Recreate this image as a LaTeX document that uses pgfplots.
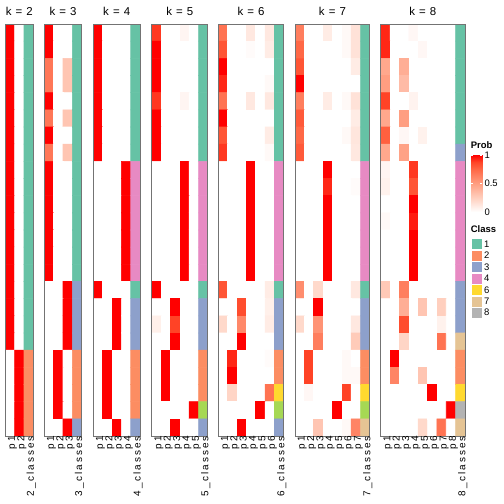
\documentclass[border=0pt]{standalone}
\usepackage{pgfplots}
\pgfplotsset{compat=1.18}
\usepackage{fontspec}
\setmainfont{Liberation Sans}
\newfontfamily\tickfont[LetterSpace=20]{Liberation Sans}
\newfontfamily\titlefont[LetterSpace=8]{Liberation Sans}
\definecolor{s1}{RGB}{102,194,165}
\definecolor{s2}{RGB}{252,141,98}
\definecolor{s3}{RGB}{141,160,203}
\definecolor{s4}{RGB}{231,138,195}
\definecolor{s5}{RGB}{166,216,84}
\definecolor{s6}{RGB}{255,217,47}
\definecolor{s7}{RGB}{229,196,148}
\definecolor{s8}{RGB}{179,179,179}
\pgfplotsset{
  colormap={wr}{rgb255(0)=(255,255,255) rgb255(0.25)=(255,207,190) rgb255(0.5)=(255,158,129) rgb255(0.75)=(255,104,70) rgb255(0.875)=(255,70,40) rgb255(1)=(255,0,0)},
  panel/.style={
    scale only axis, height=412bp, anchor=south west,
    xmin=-0.5, ymin=-0.5, ymax=23.5, y dir=reverse,
    colormap name=wr, point meta min=0, point meta max=1,
    axis on top,
    axis line style={draw=black!55, line width=1bp},
    ytick=\empty, major tick length=0pt,
    xticklabel style={rotate=90, anchor=east, inner sep=0pt, yshift=-2.5bp, font=\tickfont\fontsize{10}{12}\selectfont},
    every axis title/.style={at={(0.5,1)}, anchor=base, yshift=9bp, inner sep=0pt, font=\titlefont\fontsize{11.5}{13}\selectfont},
  },
  prob/.style={matrix plot, faceted color=mapped color, line width=0.6bp, mesh/cols=#1, mesh/rows=24, point meta=explicit},
  cls/.style={matrix plot, faceted color=mapped color, line width=0.6bp, mesh/cols=2, mesh/rows=24, mesh/color input=explicit, point meta=explicit symbolic},
}
\begin{document}
\begin{tikzpicture}
\path[use as bounding box] (0,0) rectangle (504bp,504bp);

% ---------------- k = 2
\begin{axis}[panel, at={(5.3bp,68bp)}, width=28.11bp, xmax=2.5, xtick={0,1,2}, xticklabels={p1,p2,2\_classes}, title={k = 2}]
\addplot[prob=2] table[row sep=\\, meta=v] {
x y v\\
0 0 1\\1 0 0\\
0 1 1\\1 1 0\\
0 2 1\\1 2 0\\
0 3 1\\1 3 0\\
0 4 1\\1 4 0\\
0 5 1\\1 5 0\\
0 6 1\\1 6 0\\
0 7 1\\1 7 0\\
0 8 1\\1 8 0\\
0 9 1\\1 9 0\\
0 10 1\\1 10 0\\
0 11 1\\1 11 0\\
0 12 1\\1 12 0\\
0 13 1\\1 13 0\\
0 14 1\\1 14 0\\
0 15 1\\1 15 0\\
0 16 1\\1 16 0\\
0 17 1\\1 17 0\\
0 18 1\\1 18 0\\
0 19 0\\1 19 1\\
0 20 0\\1 20 1\\
0 21 0\\1 21 1\\
0 22 0\\1 22 1\\
0 23 0\\1 23 1\\
};
\addplot[cls] table[row sep=\\, meta=c] {
x y c\\
2 0 color=s1\\3 0 color=s1\\
2 1 color=s1\\3 1 color=s1\\
2 2 color=s1\\3 2 color=s1\\
2 3 color=s1\\3 3 color=s1\\
2 4 color=s1\\3 4 color=s1\\
2 5 color=s1\\3 5 color=s1\\
2 6 color=s1\\3 6 color=s1\\
2 7 color=s1\\3 7 color=s1\\
2 8 color=s1\\3 8 color=s1\\
2 9 color=s1\\3 9 color=s1\\
2 10 color=s1\\3 10 color=s1\\
2 11 color=s1\\3 11 color=s1\\
2 12 color=s1\\3 12 color=s1\\
2 13 color=s1\\3 13 color=s1\\
2 14 color=s1\\3 14 color=s1\\
2 15 color=s1\\3 15 color=s1\\
2 16 color=s1\\3 16 color=s1\\
2 17 color=s1\\3 17 color=s1\\
2 18 color=s1\\3 18 color=s1\\
2 19 color=s2\\3 19 color=s2\\
2 20 color=s2\\3 20 color=s2\\
2 21 color=s2\\3 21 color=s2\\
2 22 color=s2\\3 22 color=s2\\
2 23 color=s2\\3 23 color=s2\\
};
\end{axis}

% ---------------- k = 3
\begin{axis}[panel, at={(44.3bp,68bp)}, width=37.48bp, xmax=3.5, xtick={0,1,2,3}, xticklabels={p1,p2,p3,3\_classes}, title={k = 3}]
\addplot[prob=3] table[row sep=\\, meta=v] {
x y v\\
0 0 1\\1 0 0\\2 0 0\\
0 1 1\\1 1 0\\2 1 0\\
0 2 0.68\\1 2 0\\2 2 0.3\\
0 3 0.68\\1 3 0\\2 3 0.3\\
0 4 1\\1 4 0\\2 4 0\\
0 5 0.68\\1 5 0\\2 5 0.3\\
0 6 1\\1 6 0\\2 6 0\\
0 7 0.68\\1 7 0\\2 7 0.3\\
0 8 1\\1 8 0\\2 8 0\\
0 9 1\\1 9 0\\2 9 0\\
0 10 1\\1 10 0\\2 10 0\\
0 11 1\\1 11 0\\2 11 0\\
0 12 1\\1 12 0\\2 12 0\\
0 13 1\\1 13 0\\2 13 0\\
0 14 1\\1 14 0\\2 14 0\\
0 15 0\\1 15 0\\2 15 1\\
0 16 0\\1 16 0\\2 16 1\\
0 17 0\\1 17 0\\2 17 1\\
0 18 0\\1 18 0\\2 18 1\\
0 19 0\\1 19 1\\2 19 0\\
0 20 0\\1 20 1\\2 20 0\\
0 21 0\\1 21 1\\2 21 0\\
0 22 0\\1 22 1\\2 22 0\\
0 23 0\\1 23 0\\2 23 1\\
};
\addplot[cls] table[row sep=\\, meta=c] {
x y c\\
3 0 color=s1\\4 0 color=s1\\
3 1 color=s1\\4 1 color=s1\\
3 2 color=s1\\4 2 color=s1\\
3 3 color=s1\\4 3 color=s1\\
3 4 color=s1\\4 4 color=s1\\
3 5 color=s1\\4 5 color=s1\\
3 6 color=s1\\4 6 color=s1\\
3 7 color=s1\\4 7 color=s1\\
3 8 color=s1\\4 8 color=s1\\
3 9 color=s1\\4 9 color=s1\\
3 10 color=s1\\4 10 color=s1\\
3 11 color=s1\\4 11 color=s1\\
3 12 color=s1\\4 12 color=s1\\
3 13 color=s1\\4 13 color=s1\\
3 14 color=s1\\4 14 color=s1\\
3 15 color=s3\\4 15 color=s3\\
3 16 color=s3\\4 16 color=s3\\
3 17 color=s3\\4 17 color=s3\\
3 18 color=s3\\4 18 color=s3\\
3 19 color=s2\\4 19 color=s2\\
3 20 color=s2\\4 20 color=s2\\
3 21 color=s2\\4 21 color=s2\\
3 22 color=s2\\4 22 color=s2\\
3 23 color=s3\\4 23 color=s3\\
};
\end{axis}

% ---------------- k = 4
\begin{axis}[panel, at={(93.3bp,68bp)}, width=46.85bp, xmax=4.5, xtick={0,1,2,3,4}, xticklabels={p1,p2,p3,p4,4\_classes}, title={k = 4}]
\addplot[prob=4] table[row sep=\\, meta=v] {
x y v\\
0 0 1\\1 0 0\\2 0 0\\3 0 0\\
0 1 1\\1 1 0\\2 1 0\\3 1 0\\
0 2 1\\1 2 0\\2 2 0\\3 2 0\\
0 3 1\\1 3 0\\2 3 0\\3 3 0\\
0 4 1\\1 4 0\\2 4 0\\3 4 0\\
0 5 1\\1 5 0\\2 5 0\\3 5 0\\
0 6 1\\1 6 0\\2 6 0\\3 6 0\\
0 7 1\\1 7 0\\2 7 0\\3 7 0\\
0 8 0\\1 8 0\\2 8 0\\3 8 1\\
0 9 0\\1 9 0\\2 9 0\\3 9 1\\
0 10 0\\1 10 0\\2 10 0\\3 10 1\\
0 11 0\\1 11 0\\2 11 0\\3 11 1\\
0 12 0\\1 12 0\\2 12 0\\3 12 1\\
0 13 0\\1 13 0\\2 13 0\\3 13 1\\
0 14 0\\1 14 0\\2 14 0\\3 14 1\\
0 15 1\\1 15 0\\2 15 0\\3 15 0\\
0 16 0\\1 16 0\\2 16 1\\3 16 0\\
0 17 0\\1 17 0\\2 17 1\\3 17 0\\
0 18 0\\1 18 0\\2 18 1\\3 18 0\\
0 19 0\\1 19 1\\2 19 0\\3 19 0\\
0 20 0\\1 20 1\\2 20 0\\3 20 0\\
0 21 0\\1 21 1\\2 21 0\\3 21 0\\
0 22 0\\1 22 1\\2 22 0\\3 22 0\\
0 23 0\\1 23 0\\2 23 1\\3 23 0\\
};
\addplot[cls] table[row sep=\\, meta=c] {
x y c\\
4 0 color=s1\\5 0 color=s1\\
4 1 color=s1\\5 1 color=s1\\
4 2 color=s1\\5 2 color=s1\\
4 3 color=s1\\5 3 color=s1\\
4 4 color=s1\\5 4 color=s1\\
4 5 color=s1\\5 5 color=s1\\
4 6 color=s1\\5 6 color=s1\\
4 7 color=s1\\5 7 color=s1\\
4 8 color=s4\\5 8 color=s4\\
4 9 color=s4\\5 9 color=s4\\
4 10 color=s4\\5 10 color=s4\\
4 11 color=s4\\5 11 color=s4\\
4 12 color=s4\\5 12 color=s4\\
4 13 color=s4\\5 13 color=s4\\
4 14 color=s4\\5 14 color=s4\\
4 15 color=s1\\5 15 color=s1\\
4 16 color=s3\\5 16 color=s3\\
4 17 color=s3\\5 17 color=s3\\
4 18 color=s3\\5 18 color=s3\\
4 19 color=s2\\5 19 color=s2\\
4 20 color=s2\\5 20 color=s2\\
4 21 color=s2\\5 21 color=s2\\
4 22 color=s2\\5 22 color=s2\\
4 23 color=s3\\5 23 color=s3\\
};
\end{axis}

% ---------------- k = 5
\begin{axis}[panel, at={(151.7bp,68bp)}, width=56.22bp, xmax=5.5, xtick={0,1,2,3,4,5}, xticklabels={p1,p2,p3,p4,p5,5\_classes}, title={k = 5}]
\addplot[prob=5] table[row sep=\\, meta=v] {
x y v\\
0 0 0.9\\1 0 0\\2 0 0\\3 0 0.05\\4 0 0\\
0 1 1\\1 1 0\\2 1 0\\3 1 0\\4 1 0\\
0 2 1\\1 2 0\\2 2 0\\3 2 0\\4 2 0\\
0 3 1\\1 3 0\\2 3 0\\3 3 0\\4 3 0\\
0 4 0.9\\1 4 0\\2 4 0\\3 4 0.05\\4 4 0\\
0 5 1\\1 5 0\\2 5 0\\3 5 0\\4 5 0\\
0 6 1\\1 6 0\\2 6 0\\3 6 0\\4 6 0\\
0 7 1\\1 7 0\\2 7 0\\3 7 0\\4 7 0\\
0 8 0\\1 8 0\\2 8 0\\3 8 1\\4 8 0\\
0 9 0\\1 9 0\\2 9 0\\3 9 1\\4 9 0\\
0 10 0\\1 10 0\\2 10 0\\3 10 1\\4 10 0\\
0 11 0\\1 11 0\\2 11 0\\3 11 1\\4 11 0\\
0 12 0\\1 12 0\\2 12 0\\3 12 1\\4 12 0\\
0 13 0\\1 13 0\\2 13 0\\3 13 1\\4 13 0\\
0 14 0\\1 14 0\\2 14 0\\3 14 1\\4 14 0\\
0 15 1\\1 15 0\\2 15 0\\3 15 0\\4 15 0\\
0 16 0\\1 16 0\\2 16 1\\3 16 0\\4 16 0\\
0 17 0.08\\1 17 0\\2 17 0.88\\3 17 0\\4 17 0\\
0 18 0\\1 18 0\\2 18 1\\3 18 0\\4 18 0\\
0 19 0\\1 19 1\\2 19 0\\3 19 0\\4 19 0\\
0 20 0\\1 20 1\\2 20 0\\3 20 0\\4 20 0\\
0 21 0\\1 21 1\\2 21 0\\3 21 0\\4 21 0\\
0 22 0\\1 22 0\\2 22 0\\3 22 0\\4 22 1\\
0 23 0\\1 23 0\\2 23 1\\3 23 0\\4 23 0\\
};
\addplot[cls] table[row sep=\\, meta=c] {
x y c\\
5 0 color=s1\\6 0 color=s1\\
5 1 color=s1\\6 1 color=s1\\
5 2 color=s1\\6 2 color=s1\\
5 3 color=s1\\6 3 color=s1\\
5 4 color=s1\\6 4 color=s1\\
5 5 color=s1\\6 5 color=s1\\
5 6 color=s1\\6 6 color=s1\\
5 7 color=s1\\6 7 color=s1\\
5 8 color=s4\\6 8 color=s4\\
5 9 color=s4\\6 9 color=s4\\
5 10 color=s4\\6 10 color=s4\\
5 11 color=s4\\6 11 color=s4\\
5 12 color=s4\\6 12 color=s4\\
5 13 color=s4\\6 13 color=s4\\
5 14 color=s4\\6 14 color=s4\\
5 15 color=s1\\6 15 color=s1\\
5 16 color=s3\\6 16 color=s3\\
5 17 color=s3\\6 17 color=s3\\
5 18 color=s3\\6 18 color=s3\\
5 19 color=s2\\6 19 color=s2\\
5 20 color=s2\\6 20 color=s2\\
5 21 color=s2\\6 21 color=s2\\
5 22 color=s5\\6 22 color=s5\\
5 23 color=s3\\6 23 color=s3\\
};
\end{axis}

% ---------------- k = 6
\begin{axis}[panel, at={(218.3bp,68bp)}, width=65.59bp, xmax=6.5, xtick={0,1,2,3,4,5,6}, xticklabels={p1,p2,p3,p4,p5,p6,6\_classes}, title={k = 6}]
\addplot[prob=6] table[row sep=\\, meta=v] {
x y v\\
0 0 0.7\\1 0 0\\2 0 0\\3 0 0.12\\4 0 0\\5 0 0.12\\
0 1 0.82\\1 1 0\\2 1 0\\3 1 0.02\\4 1 0\\5 1 0.1\\
0 2 1\\1 2 0\\2 2 0\\3 2 0\\4 2 0\\5 2 0\\
0 3 0.93\\1 3 0\\2 3 0\\3 3 0\\4 3 0\\5 3 0.03\\
0 4 0.7\\1 4 0\\2 4 0\\3 4 0.12\\4 4 0\\5 4 0.12\\
0 5 1\\1 5 0\\2 5 0\\3 5 0\\4 5 0\\5 5 0\\
0 6 0.82\\1 6 0\\2 6 0\\3 6 0\\4 6 0\\5 6 0.1\\
0 7 0.9\\1 7 0\\2 7 0\\3 7 0\\4 7 0\\5 7 0.03\\
0 8 0\\1 8 0\\2 8 0\\3 8 1\\4 8 0\\5 8 0\\
0 9 0\\1 9 0\\2 9 0\\3 9 1\\4 9 0\\5 9 0\\
0 10 0\\1 10 0\\2 10 0\\3 10 1\\4 10 0\\5 10 0\\
0 11 0\\1 11 0\\2 11 0\\3 11 1\\4 11 0\\5 11 0\\
0 12 0\\1 12 0\\2 12 0\\3 12 1\\4 12 0\\5 12 0\\
0 13 0\\1 13 0\\2 13 0\\3 13 1\\4 13 0\\5 13 0\\
0 14 0\\1 14 0\\2 14 0\\3 14 1\\4 14 0\\5 14 0\\
0 15 0.82\\1 15 0\\2 15 0\\3 15 0\\4 15 0\\5 15 0.1\\
0 16 0\\1 16 0\\2 16 0.85\\3 16 0\\4 16 0\\5 16 0.08\\
0 17 0.2\\1 17 0\\2 17 0.6\\3 17 0\\4 17 0\\5 17 0.1\\
0 18 0\\1 18 0\\2 18 1\\3 18 0\\4 18 0\\5 18 0\\
0 19 0\\1 19 0.93\\2 19 0\\3 19 0\\4 19 0\\5 19 0.02\\
0 20 0\\1 20 1\\2 20 0\\3 20 0\\4 20 0\\5 20 0\\
0 21 0\\1 21 0.22\\2 21 0\\3 21 0\\4 21 0\\5 21 0.7\\
0 22 0\\1 22 0\\2 22 0\\3 22 0\\4 22 1\\5 22 0\\
0 23 0\\1 23 0\\2 23 1\\3 23 0\\4 23 0\\5 23 0\\
};
\addplot[cls] table[row sep=\\, meta=c] {
x y c\\
6 0 color=s1\\7 0 color=s1\\
6 1 color=s1\\7 1 color=s1\\
6 2 color=s1\\7 2 color=s1\\
6 3 color=s1\\7 3 color=s1\\
6 4 color=s1\\7 4 color=s1\\
6 5 color=s1\\7 5 color=s1\\
6 6 color=s1\\7 6 color=s1\\
6 7 color=s1\\7 7 color=s1\\
6 8 color=s4\\7 8 color=s4\\
6 9 color=s4\\7 9 color=s4\\
6 10 color=s4\\7 10 color=s4\\
6 11 color=s4\\7 11 color=s4\\
6 12 color=s4\\7 12 color=s4\\
6 13 color=s4\\7 13 color=s4\\
6 14 color=s4\\7 14 color=s4\\
6 15 color=s1\\7 15 color=s1\\
6 16 color=s3\\7 16 color=s3\\
6 17 color=s3\\7 17 color=s3\\
6 18 color=s3\\7 18 color=s3\\
6 19 color=s2\\7 19 color=s2\\
6 20 color=s2\\7 20 color=s2\\
6 21 color=s6\\7 21 color=s6\\
6 22 color=s5\\7 22 color=s5\\
6 23 color=s3\\7 23 color=s3\\
};
\end{axis}

% ---------------- k = 7
\begin{axis}[panel, at={(295bp,68bp)}, width=74.96bp, xmax=7.5, xtick={0,1,2,3,4,5,6,7}, xticklabels={p1,p2,p3,p4,p5,p6,p7,7\_classes}, title={k = 7}]
\addplot[prob=7] table[row sep=\\, meta=v] {
x y v\\
0 0 0.65\\1 0 0\\2 0 0\\3 0 0.1\\4 0 0\\5 0 0.03\\6 0 0.15\\
0 1 0.75\\1 1 0\\2 1 0\\3 1 0\\4 1 0\\5 1 0.03\\6 1 0.15\\
0 2 0.82\\1 2 0\\2 2 0\\3 2 0\\4 2 0\\5 2 0\\6 2 0.1\\
0 3 1\\1 3 0\\2 3 0\\3 3 0\\4 3 0\\5 3 0\\6 3 0\\
0 4 0.65\\1 4 0\\2 4 0\\3 4 0.1\\4 4 0\\5 4 0.03\\6 4 0.15\\
0 5 0.8\\1 5 0\\2 5 0\\3 5 0\\4 5 0\\5 5 0\\6 5 0.1\\
0 6 0.75\\1 6 0\\2 6 0\\3 6 0\\4 6 0\\5 6 0.03\\6 6 0.13\\
0 7 0.8\\1 7 0\\2 7 0\\3 7 0\\4 7 0\\5 7 0\\6 7 0.12\\
0 8 0\\1 8 0\\2 8 0\\3 8 1\\4 8 0\\5 8 0\\6 8 0\\
0 9 0\\1 9 0\\2 9 0\\3 9 0.93\\4 9 0\\5 9 0\\6 9 0.02\\
0 10 0\\1 10 0\\2 10 0\\3 10 1\\4 10 0\\5 10 0\\6 10 0\\
0 11 0\\1 11 0\\2 11 0\\3 11 1\\4 11 0\\5 11 0\\6 11 0\\
0 12 0\\1 12 0\\2 12 0\\3 12 1\\4 12 0\\5 12 0\\6 12 0\\
0 13 0\\1 13 0\\2 13 0\\3 13 1\\4 13 0\\5 13 0\\6 13 0\\
0 14 0\\1 14 0\\2 14 0\\3 14 1\\4 14 0\\5 14 0\\6 14 0\\
0 15 0.58\\1 15 0\\2 15 0.2\\3 15 0\\4 15 0\\5 15 0\\6 15 0.12\\
0 16 0\\1 16 0\\2 16 1\\3 16 0\\4 16 0\\5 16 0\\6 16 0\\
0 17 0.2\\1 17 0\\2 17 0.55\\3 17 0\\4 17 0\\5 17 0\\6 17 0.12\\
0 18 0\\1 18 0\\2 18 0.65\\3 18 0\\4 18 0\\5 18 0\\6 18 0.27\\
0 19 0\\1 19 0.88\\2 19 0\\3 19 0\\4 19 0\\5 19 0.03\\6 19 0\\
0 20 0\\1 20 0.88\\2 20 0\\3 20 0\\4 20 0\\5 20 0.03\\6 20 0.03\\
0 21 0\\1 21 0.04\\2 21 0\\3 21 0\\4 21 0\\5 21 0.88\\6 21 0\\
0 22 0\\1 22 0\\2 22 0\\3 22 0\\4 22 1\\5 22 0\\6 22 0\\
0 23 0\\1 23 0\\2 23 0.3\\3 23 0\\4 23 0\\5 23 0.03\\6 23 0.62\\
};
\addplot[cls] table[row sep=\\, meta=c] {
x y c\\
7 0 color=s1\\8 0 color=s1\\
7 1 color=s1\\8 1 color=s1\\
7 2 color=s1\\8 2 color=s1\\
7 3 color=s1\\8 3 color=s1\\
7 4 color=s1\\8 4 color=s1\\
7 5 color=s1\\8 5 color=s1\\
7 6 color=s1\\8 6 color=s1\\
7 7 color=s1\\8 7 color=s1\\
7 8 color=s4\\8 8 color=s4\\
7 9 color=s4\\8 9 color=s4\\
7 10 color=s4\\8 10 color=s4\\
7 11 color=s4\\8 11 color=s4\\
7 12 color=s4\\8 12 color=s4\\
7 13 color=s4\\8 13 color=s4\\
7 14 color=s4\\8 14 color=s4\\
7 15 color=s1\\8 15 color=s1\\
7 16 color=s3\\8 16 color=s3\\
7 17 color=s3\\8 17 color=s3\\
7 18 color=s3\\8 18 color=s3\\
7 19 color=s2\\8 19 color=s2\\
7 20 color=s2\\8 20 color=s2\\
7 21 color=s6\\8 21 color=s6\\
7 22 color=s5\\8 22 color=s5\\
7 23 color=s7\\8 23 color=s7\\
};
\end{axis}

% ---------------- k = 8
\begin{axis}[panel, at={(380.7bp,68bp)}, width=84.33bp, xmax=8.5, xtick={0,1,2,3,4,5,6,7,8}, xticklabels={p1,p2,p3,p4,p5,p6,p7,p8,8\_classes}, title={k = 8}]
\addplot[prob=8] table[row sep=\\, meta=v] {
x y v\\
0 0 0.93\\1 0 0\\2 0 0\\3 0 0.04\\4 0 0\\5 0 0\\6 0 0\\7 0 0\\
0 1 0.93\\1 1 0\\2 1 0\\3 1 0\\4 1 0.04\\5 1 0\\6 1 0\\7 1 0\\
0 2 0.45\\1 2 0\\2 2 0.42\\3 2 0\\4 2 0\\5 2 0\\6 2 0\\7 2 0\\
0 3 0.5\\1 3 0\\2 3 0.35\\3 3 0\\4 3 0\\5 3 0\\6 3 0\\7 3 0\\
0 4 0.88\\1 4 0\\2 4 0\\3 4 0.06\\4 4 0\\5 4 0\\6 4 0\\7 4 0\\
0 5 0.45\\1 5 0\\2 5 0.5\\3 5 0\\4 5 0\\5 5 0\\6 5 0\\7 5 0\\
0 6 0.78\\1 6 0\\2 6 0.04\\3 6 0\\4 6 0.07\\5 6 0\\6 6 0\\7 6 0\\
0 7 0.45\\1 7 0\\2 7 0.48\\3 7 0\\4 7 0\\5 7 0\\6 7 0\\7 7 0\\
0 8 0.05\\1 8 0\\2 8 0\\3 8 0.9\\4 8 0\\5 8 0\\6 8 0\\7 8 0\\
0 9 0.07\\1 9 0\\2 9 0\\3 9 0.82\\4 9 0\\5 9 0\\6 9 0\\7 9 0\\
0 10 0\\1 10 0\\2 10 0\\3 10 1\\4 10 0\\5 10 0\\6 10 0\\7 10 0\\
0 11 0.03\\1 11 0\\2 11 0\\3 11 0.95\\4 11 0\\5 11 0\\6 11 0\\7 11 0\\
0 12 0\\1 12 0\\2 12 0\\3 12 1\\4 12 0\\5 12 0\\6 12 0\\7 12 0\\
0 13 0\\1 13 0\\2 13 0\\3 13 1\\4 13 0\\5 13 0\\6 13 0\\7 13 0\\
0 14 0\\1 14 0\\2 14 0\\3 14 1\\4 14 0\\5 14 0\\6 14 0\\7 14 0\\
0 15 0.28\\1 15 0\\2 15 0.65\\3 15 0\\4 15 0\\5 15 0\\6 15 0\\7 15 0\\
0 16 0\\1 16 0\\2 16 0.42\\3 16 0\\4 16 0.3\\5 16 0\\6 16 0.25\\7 16 0\\
0 17 0\\1 17 0\\2 17 0.85\\3 17 0\\4 17 0\\5 17 0\\6 17 0.07\\7 17 0\\
0 18 0\\1 18 0\\2 18 0.22\\3 18 0\\4 18 0\\5 18 0\\6 18 0.7\\7 18 0\\
0 19 0\\1 19 1\\2 19 0\\3 19 0\\4 19 0\\5 19 0\\6 19 0\\7 19 0\\
0 20 0\\1 20 0.62\\2 20 0\\3 20 0\\4 20 0.3\\5 20 0\\6 20 0\\7 20 0\\
0 21 0\\1 21 0\\2 21 0\\3 21 0\\4 21 0\\5 21 1\\6 21 0\\7 21 0\\
0 22 0\\1 22 0\\2 22 0\\3 22 0\\4 22 0\\5 22 0\\6 22 0\\7 22 1\\
0 23 0\\1 23 0\\2 23 0\\3 23 0\\4 23 0.2\\5 23 0\\6 23 0.7\\7 23 0\\
};
\addplot[cls] table[row sep=\\, meta=c] {
x y c\\
8 0 color=s1\\9 0 color=s1\\
8 1 color=s1\\9 1 color=s1\\
8 2 color=s1\\9 2 color=s1\\
8 3 color=s1\\9 3 color=s1\\
8 4 color=s1\\9 4 color=s1\\
8 5 color=s1\\9 5 color=s1\\
8 6 color=s1\\9 6 color=s1\\
8 7 color=s3\\9 7 color=s3\\
8 8 color=s4\\9 8 color=s4\\
8 9 color=s4\\9 9 color=s4\\
8 10 color=s4\\9 10 color=s4\\
8 11 color=s4\\9 11 color=s4\\
8 12 color=s4\\9 12 color=s4\\
8 13 color=s4\\9 13 color=s4\\
8 14 color=s4\\9 14 color=s4\\
8 15 color=s3\\9 15 color=s3\\
8 16 color=s3\\9 16 color=s3\\
8 17 color=s3\\9 17 color=s3\\
8 18 color=s7\\9 18 color=s7\\
8 19 color=s2\\9 19 color=s2\\
8 20 color=s2\\9 20 color=s2\\
8 21 color=s6\\9 21 color=s6\\
8 22 color=s8\\9 22 color=s8\\
8 23 color=s7\\9 23 color=s7\\
};
\end{axis}

% ---------------- Prob legend
\begin{axis}[scale only axis, anchor=south west, at={(470.7bp,292bp)}, width=11.6bp, height=57bp,
  xmin=0, xmax=1, ymin=0, ymax=1, colormap name=wr, point meta min=0, point meta max=1,
  axis line style={draw=none}, xtick=\empty, ytick={0,0.5,1}, yticklabels={0,0.5,1},
  yticklabel pos=right, axis on top, tick align=inside, major tick length=2.5bp,
  tick style={draw=white, line width=0.8bp},
  yticklabel style={anchor=west, inner sep=0pt, xshift=2bp, font=\fontsize{9.5}{11}\selectfont},
  title={Prob},
  every axis title/.style={at={(0,1)}, anchor=base west, yshift=6.3bp, inner sep=0pt, font=\bfseries\fontsize{9.5}{11}\selectfont}]
\addplot[patch, shader=interp, point meta=explicit] coordinates {(0,0) [0] (1,0) [0] (1,1) [1] (0,0) [0] (1,1) [1] (0,1) [1]};
\end{axis}

% ---------------- Class legend
\begin{axis}[scale only axis, anchor=south west, at={(470.7bp,185.6bp)}, width=11bp, height=80.15bp,
  xmin=0, xmax=1, ymin=0, ymax=7, clip=false,
  axis line style={draw=none}, xtick=\empty, ytick={0.5,1.5,2.5,3.5,4.5,5.5,6.5}, yticklabels={8,7,6,4,3,2,1},
  yticklabel pos=right, major tick length=0pt,
  yticklabel style={anchor=west, inner sep=0pt, xshift=2.3bp, font=\fontsize{9.5}{11}\selectfont},
  title={Class},
  every axis title/.style={at={(0,1)}, anchor=base west, yshift=5.3bp, inner sep=0pt, font=\bfseries\fontsize{9.5}{11}\selectfont}]
\addplot[scatter, only marks, scatter src=explicit symbolic, mark size=5.5bp,
  scatter/classes={
    c1={mark=square*, draw=white, fill=s1},
    c2={mark=square*, draw=white, fill=s2},
    c3={mark=square*, draw=white, fill=s3},
    c4={mark=square*, draw=white, fill=s4},
    c6={mark=square*, draw=white, fill=s6},
    c7={mark=square*, draw=white, fill=s7},
    c8={mark=square*, draw=white, fill=s8}}]
  table[meta=c] {
x y c
0.5 6.5 c1
0.5 5.5 c2
0.5 4.5 c3
0.5 3.5 c4
0.5 2.5 c6
0.5 1.5 c7
0.5 0.5 c8
};
\end{axis}
\end{tikzpicture}
\end{document}
